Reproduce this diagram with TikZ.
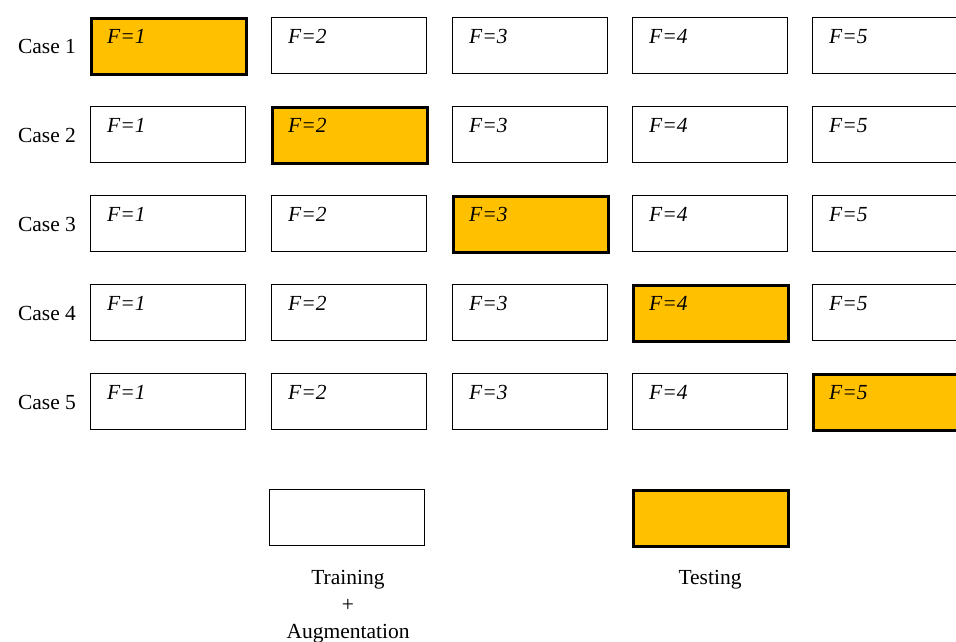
\documentclass[tikz,border=0pt]{standalone}
\usepackage{fontspec}
\setmainfont{Liberation Serif}
\definecolor{testorange}{HTML}{FFC000}
\begin{document}
\begin{tikzpicture}[x=1pt,y=-1pt,
  cell/.style={draw=black,line width=0.9pt,fill=white,minimum width=155pt,minimum height=56pt,inner sep=0pt,anchor=north west},
  testcell/.style={cell,fill=testorange,line width=3.2pt},
  flabel/.style={anchor=north west,inner sep=0pt,font=\fontsize{21.5}{24}\selectfont\itshape},
  caselabel/.style={anchor=center,inner sep=0pt,font=\fontsize{21.5}{24}\selectfont},
  legendtext/.style={anchor=north,inner sep=0pt,align=center,font=\fontsize{21.5}{26.8}\selectfont}]
\useasboundingbox (0,0) rectangle (956,641);
\clip (0,0) rectangle (956,641);
\foreach \r/\y in {1/17,2/106,3/195,4/284,5/373}{
  \node[caselabel] (case\r) at (47,\y+29) {Case \r};
  \foreach \c/\x in {1/90,2/271,3/452,4/632,5/812}{
    \ifnum\r=\c
      \node[testcell] (b\r\c) at (\x,\y) {};
    \else
      \node[cell] (b\r\c) at (\x,\y) {};
    \fi
    \node[flabel] (f\r\c) at ([xshift=17pt,yshift=-12.5pt]b\r\c.north west) {F=\c};
  }
}
\node[cell] (train) at (269,489) {};
\node[testcell] (test) at (632,489) {};
\node[legendtext] (traintext) at (348,570) {Training\\+\\Augmentation};
\node[legendtext] (testtext) at (710,570) {Testing};
\end{tikzpicture}
\end{document}
